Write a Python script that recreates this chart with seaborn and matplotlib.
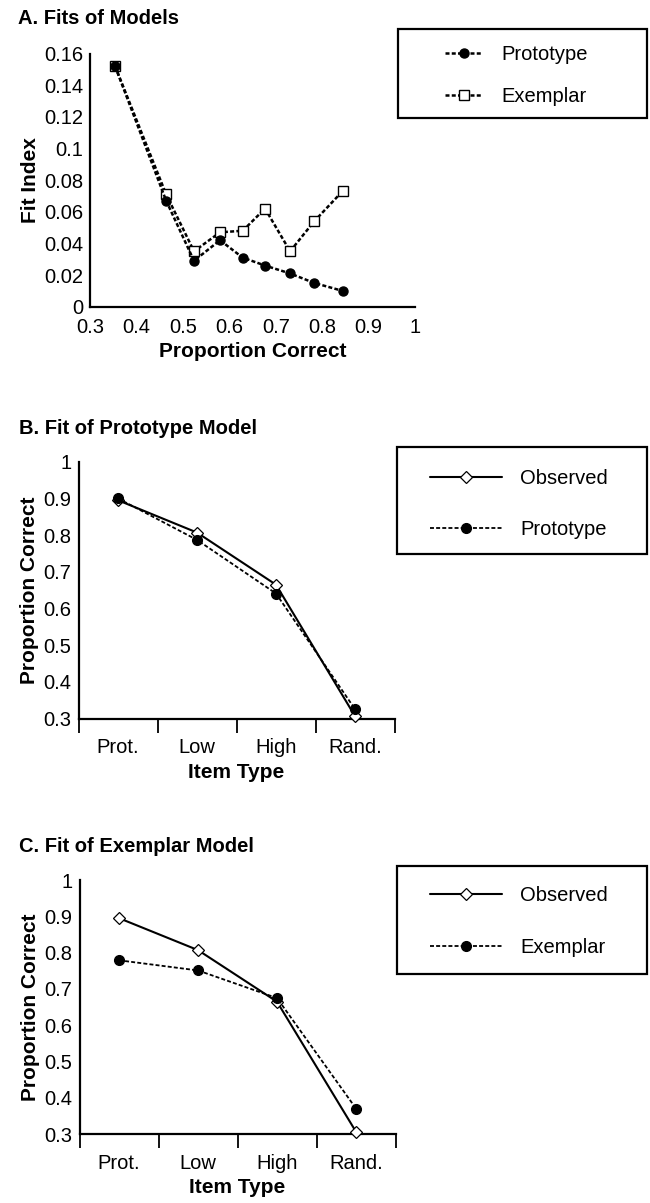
import matplotlib
matplotlib.use("Agg")
import matplotlib.pyplot as plt
import seaborn as sns
from matplotlib.patches import Rectangle
from matplotlib.ticker import FixedLocator, FuncFormatter, NullLocator

# ---- data -------------------------------------------------------------
# A. fit index of each model against proportion correct
prop_correct = [0.354, 0.464, 0.524, 0.580, 0.629, 0.677, 0.731, 0.783, 0.844]
fit_prototype = [0.152, 0.067, 0.029, 0.042, 0.031, 0.026, 0.021, 0.015, 0.010]
fit_exemplar = [0.152, 0.071, 0.035, 0.047, 0.048, 0.062, 0.035, 0.054, 0.073]

# B / C. proportion correct by item type
item_types = ["Prot.", "Low", "High", "Rand."]
observed = [0.895, 0.807, 0.665, 0.307]
pred_prototype = [0.900, 0.787, 0.641, 0.326]
pred_exemplar = [0.779, 0.751, 0.675, 0.371]

fit_ticks_x = [0.3, 0.4, 0.5, 0.6, 0.7, 0.8, 0.9, 1.0]
fit_ticks_y = [0, 0.02, 0.04, 0.06, 0.08, 0.10, 0.12, 0.14, 0.16]
pc_ticks_y = [0.3, 0.4, 0.5, 0.6, 0.7, 0.8, 0.9, 1.0]

# ---- style ------------------------------------------------------------
sns.set_theme(style="ticks")
plt.rcParams["font.family"] = ["Liberation Sans", "DejaVu Sans"]
plt.rcParams["axes.linewidth"] = 1.5
plt.rcParams["lines.scale_dashes"] = True
for key in ("text.color", "axes.labelcolor", "xtick.color", "ytick.color",
            "xtick.labelcolor", "ytick.labelcolor", "axes.edgecolor"):
    plt.rcParams[key] = "black"

TICK_FS = 14.5
LABEL_FS = 15
TITLE_FS = 14.5
LEG_FS = 14.5

W, H = 650, 1203
fig = plt.figure(figsize=(W / 100, H / 100), dpi=100)
fig.patch.set_facecolor("white")


def px_axes(left, top, right, bottom):
    return fig.add_axes([left / W, 1 - bottom / H, (right - left) / W, (bottom - top) / H])


def fmt(v, _pos=None):
    return f"{v:g}"


def style_axes(ax):
    sns.despine(ax=ax)
    for s in ("left", "bottom"):
        ax.spines[s].set_linewidth(1.6)
        ax.spines[s].set_color("black")
    ax.set_facecolor("white")
    ax.tick_params(axis="both", which="major", labelsize=TICK_FS,
                   colors="black", labelcolor="black", length=0)


def legend_box(handles, labels, box, handle_left, mid_y, hlen, spacing, tpad):
    l, t, r, b = box
    fig.add_artist(Rectangle((l / W, 1 - b / H), (r - l) / W, (b - t) / H,
                             transform=fig.transFigure, fill=False,
                             edgecolor="black", linewidth=1.6))
    leg = fig.legend(handles, labels, loc="center left",
                     bbox_to_anchor=(handle_left / W, 1 - mid_y / H),
                     frameon=False, fontsize=LEG_FS, borderpad=0, borderaxespad=0,
                     handlelength=hlen, handletextpad=tpad, labelspacing=spacing)
    for txt in leg.get_texts():
        txt.set_color("black")


dash_fit = (0, (1.6, 0.9))
dash_pred = (0, (2.2, 1.2))

# ---- A. Fits of Models ------------------------------------------------
axA = px_axes(90, 53.5, 415, 306.7)
sns.lineplot(x=prop_correct, y=fit_exemplar, ax=axA, sort=False, errorbar=None,
             color="black", linewidth=1.8, linestyle=dash_fit,
             marker="s", markersize=7, markerfacecolor="white",
             markeredgecolor="black", markeredgewidth=1.0,
             label="Exemplar", clip_on=False, zorder=3)
sns.lineplot(x=prop_correct, y=fit_prototype, ax=axA, sort=False, errorbar=None,
             color="black", linewidth=1.8, linestyle=dash_fit,
             marker="o", markersize=6.5, markerfacecolor="black",
             markeredgecolor="black", markeredgewidth=1.0,
             label="Prototype", clip_on=False, zorder=4)
if axA.get_legend():
    axA.get_legend().remove()
axA.set_xlim(0.3, 1.0)
axA.set_ylim(0, 0.16)
axA.xaxis.set_major_locator(FixedLocator(fit_ticks_x))
axA.yaxis.set_major_locator(FixedLocator(fit_ticks_y))
axA.xaxis.set_major_formatter(FuncFormatter(fmt))
axA.yaxis.set_major_formatter(FuncFormatter(fmt))
style_axes(axA)
axA.tick_params(axis="x", pad=8)
axA.tick_params(axis="y", pad=5)
axA.set_xlabel("Proportion Correct", fontsize=LABEL_FS, fontweight="bold", labelpad=4)
axA.set_ylabel("Fit Index", fontsize=LABEL_FS, fontweight="bold", labelpad=3)
fig.text(18 / W, 1 - 19 / H, "A. Fits of Models", fontsize=TITLE_FS,
         fontweight="bold", ha="left", va="center")

hA, lA = axA.get_legend_handles_labels()
orderA = [lA.index("Prototype"), lA.index("Exemplar")]
legend_box([hA[i] for i in orderA], [lA[i] for i in orderA],
           (398, 29, 647, 118), 445, 75.5, 1.84, 1.14, 0.95)


# ---- B / C. Fit of a model by item type --------------------------------
def item_panel(top, bottom, left, right, pred, pred_name, title, title_y, box, mid_y):
    ax = px_axes(left, top, right, bottom)
    sns.lineplot(x=item_types, y=observed, ax=ax, sort=False, errorbar=None,
                 color="black", linewidth=1.5, linestyle="-",
                 marker="D", markersize=6, markerfacecolor="white",
                 markeredgecolor="black", markeredgewidth=0.9,
                 label="Observed", clip_on=False, zorder=3)
    sns.lineplot(x=item_types, y=pred, ax=ax, sort=False, errorbar=None,
                 color="black", linewidth=1.3, linestyle=dash_pred,
                 marker="o", markersize=7, markerfacecolor="black",
                 markeredgecolor="black", markeredgewidth=1.0,
                 label=pred_name, clip_on=False, zorder=4)
    if ax.get_legend():
        ax.get_legend().remove()
    ax.set_xlim(-0.5, len(item_types) - 0.5)
    ax.set_ylim(0.3, 1.0)
    ax.yaxis.set_major_locator(FixedLocator(pc_ticks_y))
    ax.yaxis.set_major_formatter(FuncFormatter(fmt))
    ax.xaxis.set_minor_locator(FixedLocator([i - 0.5 for i in range(len(item_types) + 1)]))
    ax.yaxis.set_minor_locator(NullLocator())
    style_axes(ax)
    ax.tick_params(axis="x", which="minor", length=10, width=1.3, direction="out", color="black")
    ax.tick_params(axis="x", which="major", pad=14)
    ax.tick_params(axis="y", pad=5)
    ax.set_xlabel("Item Type", fontsize=LABEL_FS, fontweight="bold", labelpad=4)
    ax.set_ylabel("Proportion Correct", fontsize=LABEL_FS, fontweight="bold", labelpad=3)
    fig.text(18.7 / W, 1 - title_y / H, title, fontsize=TITLE_FS,
             fontweight="bold", ha="left", va="center")
    h, l = ax.get_legend_handles_labels()
    order = [l.index("Observed"), l.index(pred_name)]
    legend_box([h[i] for i in order], [l[i] for i in order],
               box, 430, mid_y, 3.58, 1.62, 0.9)
    return ax


item_panel(461.7, 718.7, 78.5, 394.5, pred_prototype, "Prototype",
           "B. Fit of Prototype Model", 428, (397, 447, 647, 554), 504)
item_panel(880, 1134.3, 79.5, 395.5, pred_exemplar, "Exemplar",
           "C. Fit of Exemplar Model", 847, (397, 866, 647, 974), 921.5)

fig.savefig("out.png", dpi=100, facecolor="white")
